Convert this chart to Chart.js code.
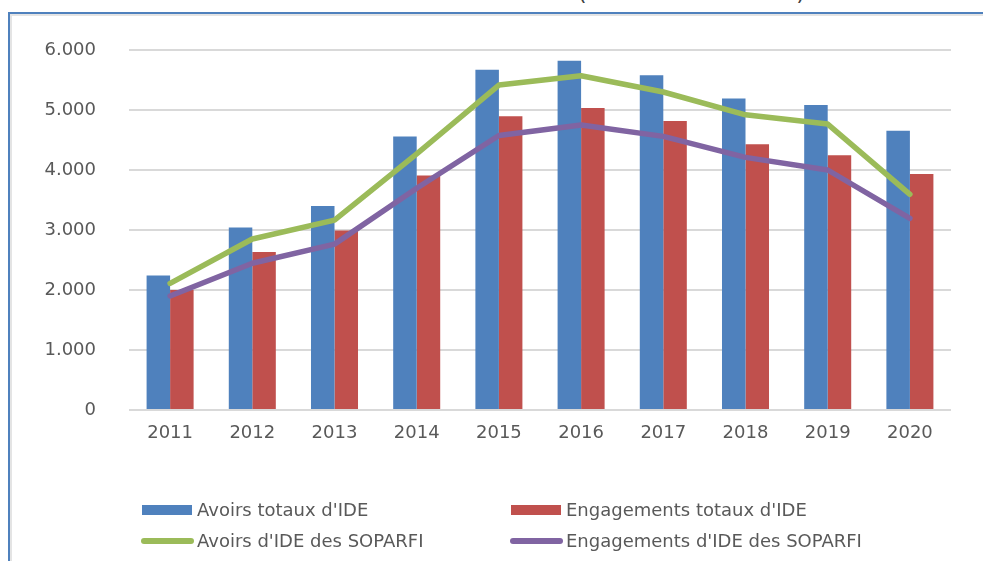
<!DOCTYPE html>
<html>
<head>
<meta charset="utf-8">
<script src="https://cdn.jsdelivr.net/npm/chart.js@4/dist/chart.umd.min.js"></script>
<style>
  html, body { margin: 0; padding: 0; background: #fff; }
  #wrap { position: relative; width: 983px; height: 561px; overflow: hidden; font-family: "DejaVu Sans", sans-serif; }
  #frame { position: absolute; left: 8px; top: 12px; width: 1000px; height: 600px;
           border-top: 2px solid #4f81bd; border-left: 2px solid #4f81bd;
           box-shadow: inset 2px 2px 0 #e4e4e4; }
  #title { position: absolute; left: 0; top: 0; width: 983px; height: 8px; overflow: hidden; }
  #title span { position: absolute; left: 578px; top: -20px; font-size: 22px; color: #404040; white-space: nowrap; letter-spacing: -0.3px; }
  #myChart { position: absolute; left: 0; top: 0; }
  .lg { position: absolute; font-size: 18px; color: #595959; white-space: nowrap; line-height: 20px; }
  .sw { position: absolute; }
</style>
</head>
<body>
<div id="wrap">
  <div id="frame"></div>
  <div id="title"><span>(en milliards d'euros)</span></div>
  <canvas id="myChart" width="983" height="561"></canvas>
  <div id="legend"></div>
</div>
<script>
const years = ['2011', '2012', '2013', '2014', '2015', '2016', '2017', '2018', '2019', '2020'];
const avoirsTotaux = [2240, 3040, 3400, 4560, 5670, 5820, 5580, 5190, 5085, 4655];
const engagementsTotaux = [2000, 2635, 2990, 3910, 4895, 5035, 4815, 4430, 4245, 3935];
const avoirsSoparfi = [2110, 2850, 3165, 4270, 5415, 5570, 5300, 4920, 4765, 3595];
const engagementsSoparfi = [1900, 2445, 2765, 3695, 4575, 4750, 4560, 4210, 4000, 3195];
const yTicks = [0, 1000, 2000, 3000, 4000, 5000, 6000];

const textColor = '#595959';
const font = { family: 'DejaVu Sans', size: 18 };

const chart = new Chart(document.getElementById('myChart'), {
    type: 'bar',
    data: {
        labels: years,
        datasets: [
            {
                label: "Avoirs totaux d'IDE",
                data: avoirsTotaux,
                backgroundColor: '#4f81bd',
                categoryPercentage: 0.572,
                barPercentage: 1,
                order: 2,
            },
            {
                label: "Engagements totaux d'IDE",
                data: engagementsTotaux,
                backgroundColor: '#c0504d',
                categoryPercentage: 0.572,
                barPercentage: 1,
                order: 2,
            },
            {
                type: 'line',
                label: "Avoirs d'IDE des SOPARFI",
                data: avoirsSoparfi,
                borderColor: '#9bbb59',
                backgroundColor: '#9bbb59',
                borderWidth: 5.5,
                pointRadius: 0,
                tension: 0,
                borderCapStyle: 'round',
                borderJoinStyle: 'round',
                order: 1,
            },
            {
                type: 'line',
                label: "Engagements d'IDE des SOPARFI",
                data: engagementsSoparfi,
                borderColor: '#8064a2',
                backgroundColor: '#8064a2',
                borderWidth: 5.5,
                pointRadius: 0,
                tension: 0,
                borderCapStyle: 'round',
                borderJoinStyle: 'round',
                order: 1,
            },
        ]
    },
    options: {
        responsive: false,
        animation: false,
        layout: { padding: { left: 0, right: 32, top: 50, bottom: 0 } },
        scales: {
            x: {
                grid: { display: false },
                border: { display: false },
                ticks: { color: textColor, font: font, padding: 5, maxRotation: 0 },
                afterFit: (s) => { s.height = 151; },
            },
            y: {
                min: 0,
                max: 6000,
                afterBuildTicks: (s) => { s.ticks = yTicks.map(v => ({ value: v })); },
                grid: { color: '#d9d9d9', lineWidth: 2, drawTicks: false },
                border: { display: false },
                ticks: {
                    color: textColor,
                    font: font,
                    padding: 33,
                    callback: (v) => Number(v).toLocaleString('de-DE'),
                },
                afterFit: (s) => { s.width = 129; },
            },
        },
        plugins: {
            legend: { display: false },
            tooltip: { enabled: false },
        }
    }
});

// legend laid out in two columns like the original
const cols = [142, 511];
const rows = [510, 541];
const legend = document.getElementById('legend');
chart.data.datasets.forEach((ds, i) => {
    const x = cols[i % 2];
    const y = rows[Math.floor(i / 2)];
    const sw = document.createElement('div');
    sw.className = 'sw';
    if (ds.type === 'line') {
        sw.style.left = (x - 1) + 'px';
        sw.style.top = (y - 3) + 'px';
        sw.style.width = '53px';
        sw.style.height = '6px';
        sw.style.borderRadius = '3px';
    } else {
        sw.style.left = x + 'px';
        sw.style.top = (y - 5) + 'px';
        sw.style.width = '50px';
        sw.style.height = '10px';
    }
    sw.style.background = ds.backgroundColor;
    legend.appendChild(sw);
    const t = document.createElement('div');
    t.className = 'lg';
    t.style.left = (x + 55) + 'px';
    t.style.top = (y - 10) + 'px';
    t.textContent = ds.label;
    legend.appendChild(t);
});
</script>
</body>
</html>
